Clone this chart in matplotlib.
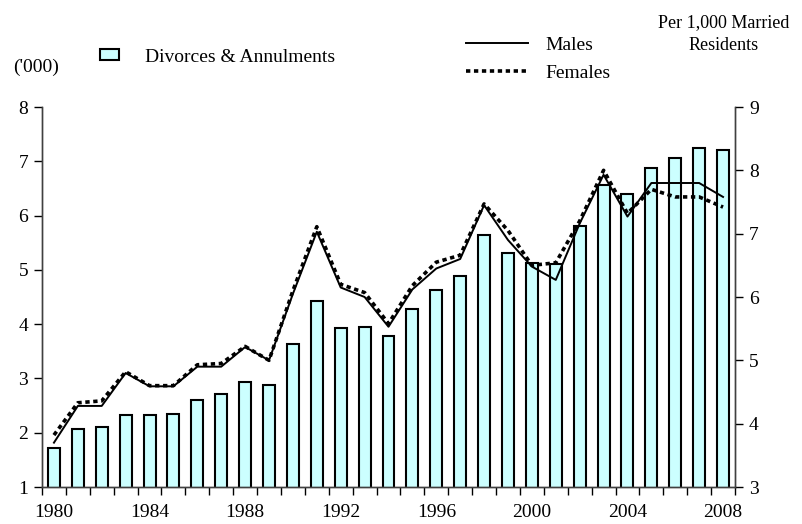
import numpy as np
import matplotlib
matplotlib.use("Agg")
import matplotlib.pyplot as plt
from matplotlib.patches import Patch
from matplotlib.lines import Line2D

# dane
years = list(range(1980, 2009))
divorces = [1.72, 2.07, 2.10, 2.32, 2.32, 2.35, 2.60, 2.71, 2.93, 2.88,
            3.63, 4.43, 3.92, 3.95, 3.78, 4.27, 4.63, 4.88, 5.64, 5.31,
            5.13, 5.11, 5.81, 6.57, 6.39, 6.88, 7.06, 7.24, 7.21]
males = [3.70, 4.28, 4.28, 4.80, 4.59, 4.59, 4.90, 4.90, 5.21, 5.00,
         6.05, 7.03, 6.15, 6.00, 5.53, 6.12, 6.45, 6.60, 7.45, 6.90,
         6.48, 6.27, 7.16, 7.93, 7.27, 7.80, 7.80, 7.80, 7.58]
females = [3.82, 4.33, 4.36, 4.82, 4.60, 4.60, 4.93, 4.95, 5.22, 5.00,
           6.10, 7.11, 6.20, 6.07, 5.58, 6.18, 6.55, 6.66, 7.47, 7.05,
           6.50, 6.54, 7.20, 8.00, 7.32, 7.70, 7.58, 7.58, 7.42]

plt.rcParams['font.family'] = ['Liberation Serif', 'DejaVu Serif']
fs = 14

fig = plt.figure(figsize=(8.03, 5.24), dpi=100)
ax = fig.add_axes([42 / 803, 37 / 524, 693 / 803, 380 / 524])
ax2 = ax.twinx()

x = np.arange(len(years))
bars = ax.bar(x, divorces, width=0.5, color='#CCFFFF', edgecolor='black', linewidth=1.5, zorder=2)
ax2.plot(x, males, color='black', linewidth=1.4)
ax2.plot(x, females, color='black', linewidth=2.6, linestyle=(0, (1.2, 1.0)))

ax.set_xlim(-0.5, len(years) - 0.5)
ax.set_ylim(1, 8)
ax2.set_ylim(3, 9)
ax.set_yticks(range(1, 9))
ax2.set_yticks(range(3, 10))

ax.set_xticks(x[::4])
ax.set_xticklabels([str(y) for y in years[::4]])
ax.set_xticks(np.arange(-0.5, len(years), 1.0), minor=True)
ax.tick_params(axis='x', which='major', length=0, labelsize=fs, pad=12)
ax.tick_params(axis='x', which='minor', length=6, width=1, direction='out')
ax.tick_params(axis='y', length=6, width=1, labelsize=fs, pad=4)
ax2.tick_params(axis='y', length=6, width=1, labelsize=fs, pad=4)

for a in (ax, ax2):
    a.spines['top'].set_visible(False)
    for s in ('left', 'right', 'bottom'):
        a.spines[s].set_linewidth(1.0)
        a.spines[s].set_color('#404040')

ax.set_zorder(ax2.get_zorder() - 1)
ax.patch.set_visible(True)
ax2.patch.set_visible(False)

# legendy
h1 = [Patch(facecolor='#CCFFFF', edgecolor='black', linewidth=1.5)]
leg1 = fig.legend(h1, ['Divorces & Annulments'], loc='center left',
                  bbox_to_anchor=(100 / 803, 1 - 57 / 524), frameon=False,
                  fontsize=fs, handlelength=1.0, handleheight=0.5,
                  handletextpad=1.3, borderpad=0, borderaxespad=0)
h2 = [Line2D([], [], color='black', linewidth=1.4),
      Line2D([], [], color='black', linewidth=2.6, linestyle=(0, (1.2, 1.0)))]
leg2 = fig.legend(h2, ['Males', 'Females'], loc='center left',
                  bbox_to_anchor=(466 / 803, 1 - 59 / 524), frameon=False,
                  fontsize=fs, handlelength=3.2, handletextpad=0.9,
                  labelspacing=0.55, borderpad=0, borderaxespad=0)

fig.text(36 / 803, 1 - 67 / 524, "('000)", fontsize=fs, ha='center', va='center')
fig.text(724 / 803, 1 - 34 / 524, 'Per 1,000 Married\nResidents', fontsize=13,
         ha='center', va='center', linespacing=1.4)

fig.savefig('out.png', dpi=100)
